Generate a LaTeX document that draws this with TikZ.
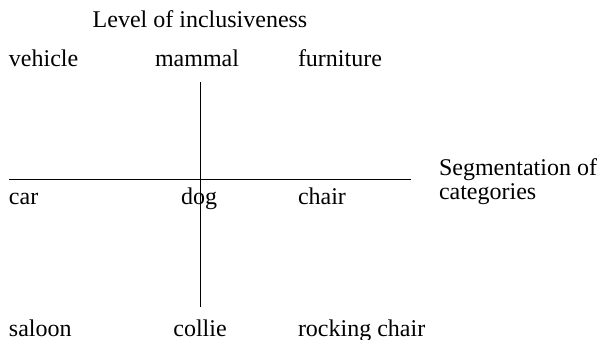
\documentclass[tikz,border=0pt]{standalone}
\usepackage{fontspec}
\setmainfont{Liberation Serif}
\usepackage{tikz}
\usetikzlibrary{positioning}
\tikzset{
  word/.style={inner sep=0pt, outer sep=0pt, font=\fontsize{12}{14}\selectfont},
  lword/.style={word, anchor=base west},
  cword/.style={word, anchor=base},
  axis/.style={line width=0.5pt, color=black},
}

\begin{document}
\begin{tikzpicture}[x=0.5pt, y=-0.5pt]
\useasboundingbox (0,0) rectangle (599,340);
\node[cword] (incl) at (200,28) {Level of inclusiveness};
% superordinate level
\node[lword] (vehicle) at (9,67) {vehicle};
\node[cword] (mammal) at (197,67) {mammal};
\node[lword] (furniture) at (298,67) {furniture};
% basic level
\node[lword] (car) at (9,205) {car};
\node[cword] (dog) at (199,205) {dog};
\node[lword] (chair) at (298,205) {chair};
\node[lword] (segm) at (439,176) {Segmentation of};
\node[lword] (categ) at (439,200) {categories};
% subordinate level
\node[lword] (saloon) at (9,337) {saloon};
\node[cword] (collie) at (200,337) {collie};
\node[lword] (rocking) at (298,337) {rocking chair};
% axes
\coordinate (vtop) at (200,82);
\coordinate (vbot) at (200,307);
\coordinate (hleft) at (9,180);
\coordinate (hright) at (411,180);
\draw[axis] (vtop) -- (vbot);
\draw[axis] (hleft) -- (hright);
\end{tikzpicture}
\end{document}
